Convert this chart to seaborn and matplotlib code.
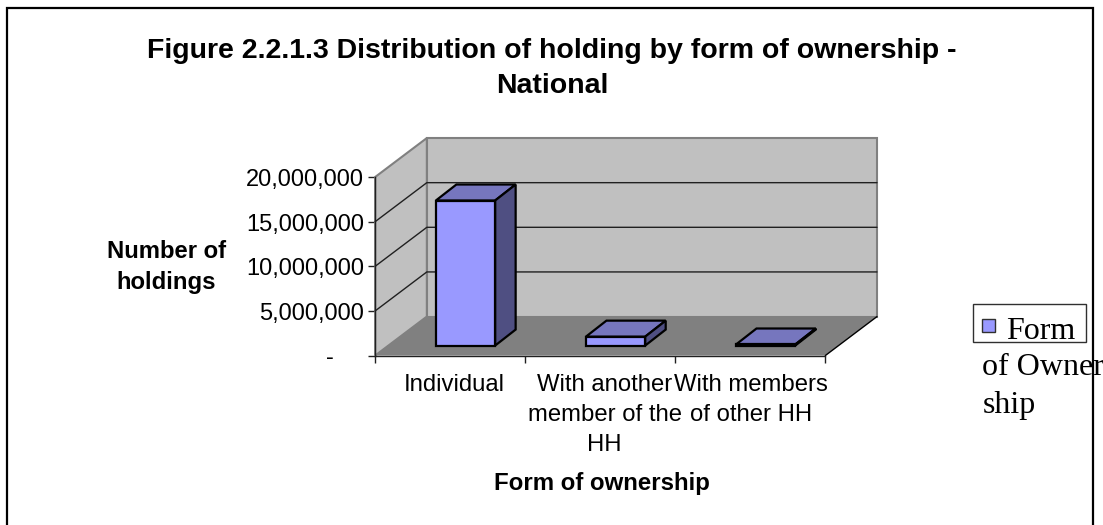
import matplotlib
matplotlib.use("Agg")
import matplotlib.pyplot as plt
from matplotlib.patches import Polygon, Rectangle
from matplotlib.transforms import Affine2D, IdentityTransform
import seaborn as sns

categories = ["Individual", "With another\nmember of the\nHH", "With members\nof other HH"]
holdings = [16250000, 1000000, 120000]
y_ticks = [0, 5000000, 10000000, 15000000, 20000000]

W, H = 1103, 525
sns.set_theme(style="white")
plt.rcParams["font.family"] = ["Liberation Sans", "DejaVu Sans"]

fig = plt.figure(figsize=((W + 0.4) / 100, (H + 0.4) / 100), dpi=100)
ax = fig.add_axes([375 / W, (H - 355.7) / H, 450 / W, 178.4 / H])
ax.patch.set_visible(False)

sns.barplot(x=categories, y=holdings, color="#9999FF", saturation=1, width=0.395, ax=ax, zorder=4)
ax.set_xlim(-0.5, 2.5)
ax.set_ylim(0, 20000000)


def project(x, y, off=(0, 0)):
    px, py = ax.transData.transform((x, y))
    return (px + off[0], py + off[1])


def face(points, **kw):
    ax.add_patch(Polygon(points, closed=True, transform=IdentityTransform(), clip_on=False, **kw))


# walls and floor of the 3d box
wall_depth = (51.7, 39)
x0, x1 = ax.get_xlim()
top = y_ticks[-1]
face([project(x0, 0, wall_depth), project(x1, 0, wall_depth), project(x1, top, wall_depth), project(x0, top, wall_depth)],
     facecolor="#C0C0C0", edgecolor="#808080", lw=1.5, zorder=1)
face([project(x0, 0), project(x0, 0, wall_depth), project(x0, top, wall_depth), project(x0, top)],
     facecolor="#C0C0C0", edgecolor="#808080", lw=1.5, zorder=1)
face([project(x0, 0), project(x1, 0), project(x1, 0, wall_depth), project(x0, 0, wall_depth)],
     facecolor="#808080", edgecolor="none", zorder=1.2)

# gridlines run along the side wall and the back wall
for v in y_ticks[1:-1]:
    line = [project(x0, v), project(x0, v, wall_depth), project(x1, v, wall_depth)]
    ax.plot(*zip(*line), transform=IdentityTransform(), color="#202020", lw=1, clip_on=False, zorder=1.5)
line = [project(x1, 0), project(x1, 0, wall_depth)]
ax.plot(*zip(*line), transform=IdentityTransform(), color="black", lw=1, clip_on=False, zorder=1.5)

# bars sit part way into the floor, sides come from the bar patches
bar_shift = (15.35, 10)
bar_depth = (20.5, 16)
for bar in ax.patches[:len(holdings)]:
    bar.set_edgecolor("black")
    bar.set_linewidth(1.6)
    bar.set_clip_on(False)
    bar.set_transform(ax.transData + Affine2D().translate(*bar_shift))
    left, right = bar.get_x(), bar.get_x() + bar.get_width()
    h = bar.get_height()
    back = (bar_shift[0] + bar_depth[0], bar_shift[1] + bar_depth[1])
    face([project(left, h, bar_shift), project(right, h, bar_shift), project(right, h, back), project(left, h, back)],
         facecolor="#7676BE", edgecolor="black", lw=1.6, zorder=3.5)
    face([project(right, 0, bar_shift), project(right, 0, back), project(right, h, back), project(right, h, bar_shift)],
         facecolor="#4F4F82", edgecolor="black", lw=1.6, zorder=3.5)

# axes
sns.despine(ax=ax)
for side in ["left", "bottom"]:
    ax.spines[side].set_color("#202020")
    ax.spines[side].set_linewidth(1)
ax.set_yticks(y_ticks)
ax.set_yticklabels(["-" if v == 0 else f"{v:,}" for v in y_ticks], fontsize=17)
ax.tick_params(axis="y", left=True, length=5, width=1, color="#202020", pad=3, labelcolor="black")
ax.yaxis.get_major_ticks()[0].set_pad(25)
ax.set_xticks([-0.5, 0.5, 1.5, 2.5], minor=True)
ax.tick_params(axis="x", which="minor", bottom=True, length=5, width=1, color="#202020")
ax.tick_params(axis="x", which="major", bottom=False, length=0, pad=13, labelsize=17.2, labelcolor="black")
label_nudge = [4.5, 4.5, 1]
for lab, dx in zip(ax.get_xticklabels(), label_nudge):
    lab.set_linespacing(1.47)
    lab.set_transform(lab.get_transform() + Affine2D().translate(dx, 0))

fig.text(552 / W, 1 - 92.7 / H, "Figure 2.2.1.3 Distribution of holding by form of ownership -\nNational",
         ha="center", va="baseline", fontsize=20.5, fontweight="bold", color="black", linespacing=1.45)
fig.text(166.5 / W, 1 - 267 / H, "Number of\nholdings", ha="center", va="center", fontsize=17.2,
         fontweight="bold", color="black", linespacing=1.45)
fig.text(601.5 / W, 1 - 483 / H, "Form of ownership", ha="center", va="center", fontsize=17.3,
         fontweight="bold", color="black")

# legend box, the text runs past it just like the source
fig.add_artist(Rectangle((973 / W, 1 - 342 / H), 113 / W, 38 / H, transform=fig.transFigure,
                         facecolor="white", edgecolor="#303030", lw=1))
fig.add_artist(Rectangle((982 / W, 1 - 332 / H), 13 / W, 13 / H, transform=fig.transFigure,
                         facecolor="#9999FF", edgecolor="#303030", lw=1))
serif = ["Liberation Serif", "DejaVu Serif"]
fig.text(1006 / W, 1 - 339 / H, "Form", family=serif, fontsize=23, color="black")
fig.text(982 / W, 1 - 375 / H, "of Owner", family=serif, fontsize=23, color="black")
fig.text(982 / W, 1 - 413 / H, "ship", family=serif, fontsize=23, color="black")

# outer frame
fig.add_artist(Rectangle((7 / W, -0.01), 1086 / W, 1.01 - 8 / H, transform=fig.transFigure,
                         facecolor="none", edgecolor="black", lw=1.6))

fig.savefig("out.png", dpi=100)
